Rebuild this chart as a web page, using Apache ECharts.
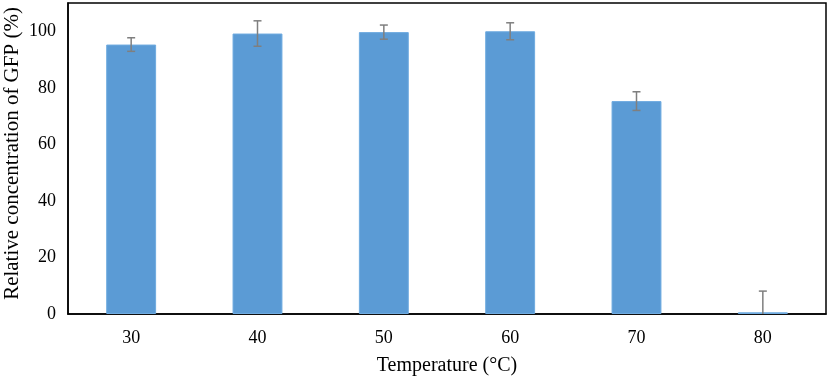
<!DOCTYPE html>
<html>
<head>
<meta charset="utf-8">
<script src="https://cdn.jsdelivr.net/npm/echarts@6/dist/echarts.min.js"></script>
<style>
html, body { margin: 0; padding: 0; background: #fff; }
#chart { width: 829px; height: 378px; }
</style>
</head>
<body>
<div id="chart"></div>
<script>
var temps = ['30', '40', '50', '60', '70', '80'];
var means = [95.3, 99.2, 99.7, 100.0, 75.3, 0.6];
var errs = [2.4, 4.5, 2.5, 3.0, 3.3, 7.5];

var chart = echarts.init(document.getElementById('chart'));
var font = '"Liberation Serif", "Times New Roman", serif';

var errData = [];
for (var i = 0; i < means.length; i++) {
	errData.push([i, means[i] - errs[i], means[i] + errs[i]]);
}

var option = {
	animation: false,
	grid: {
		left: 68, right: 3, top: 3, bottom: 64,
		outerBoundsMode: 'none',
		containLabel: false,
		show: true, borderColor: '#000', borderWidth: 1.5
	},
	xAxis: {
		type: 'category',
		data: temps,
		name: 'Temperature (°C)',
		nameLocation: 'middle',
		nameGap: 42,
		nameTextStyle: { fontFamily: font, fontSize: 20, color: '#000' },
		axisLine: { lineStyle: { color: '#000', width: 1.5 } },
		axisTick: { show: false },
		axisLabel: { fontFamily: font, fontSize: 18, color: '#000', margin: 15 }
	},
	yAxis: {
		type: 'value',
		min: 0, max: 110, interval: 20,
		name: 'Relative concentration of GFP (%)',
		nameLocation: 'middle',
		nameGap: 45,
		nameMoveOverlap: false,
		nameTextStyle: { fontFamily: font, fontSize: 21, color: '#000', padding: [0, 0, 0, 10] },
		axisLine: { show: true, lineStyle: { color: '#000', width: 1.5 } },
		axisTick: { show: false },
		splitLine: { show: false },
		axisLabel: { fontFamily: font, fontSize: 18, color: '#000', margin: 12, showMaxLabel: false }
	},
	series: [{
		type: 'bar',
		data: means,
		barWidth: '39.5%',
		itemStyle: { color: '#5b9bd5', borderColor: '#6fabe0', borderWidth: 1 }
	}, {
		type: 'custom',
		data: errData,
		z: 10,
		renderItem: function (params, api) {
			var x = api.value(0);
			var lo = api.coord([x, api.value(1)]);
			var hi = api.coord([x, api.value(2)]);
			var bottom = params.coordSys.y + params.coordSys.height;
			var loY = Math.min(lo[1], bottom);
			var capW = 4;
			var style = { stroke: '#7f7f7f', lineWidth: 1.5 };
			var children = [
				{ type: 'line', shape: { x1: hi[0], y1: hi[1], x2: lo[0], y2: loY }, style: style },
				{ type: 'line', shape: { x1: hi[0] - capW, y1: hi[1], x2: hi[0] + capW, y2: hi[1] }, style: style }
			];
			if (lo[1] <= bottom) {
				children.push({ type: 'line', shape: { x1: lo[0] - capW, y1: lo[1], x2: lo[0] + capW, y2: lo[1] }, style: style });
			}
			return { type: 'group', children: children };
		}
	}]
};
chart.setOption(option);
</script>
</body>
</html>
